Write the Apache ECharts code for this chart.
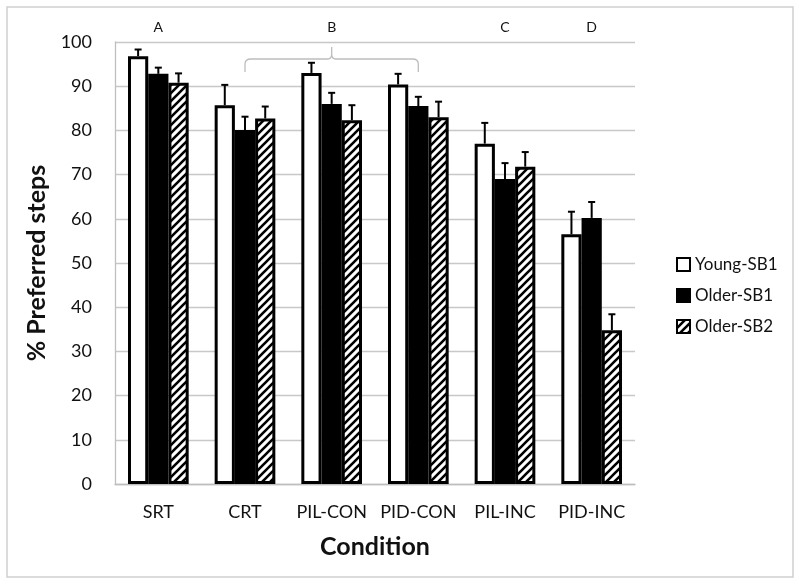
<!DOCTYPE html>
<html>
<head>
<meta charset="utf-8">
<script src="https://cdn.jsdelivr.net/npm/echarts@6/dist/echarts.min.js"></script>
<style>html,body{margin:0;padding:0;background:#fff;}#c{width:800px;height:586px;}</style>
</head>
<body>
<div id="c"></div>
<script>
const categories = ['SRT', 'CRT', 'PIL-CON', 'PID-CON', 'PIL-INC', 'PID-INC'];
const seriesNames = ['Young-SB1', 'Older-SB1', 'Older-SB2'];
const youngSB1 = [96.8, 85.7, 93.0, 90.4, 77.0, 56.5];
const olderSB1 = [92.8, 80.1, 86.0, 85.5, 69.0, 60.2];
const olderSB2 = [90.8, 82.7, 82.3, 83.0, 71.8, 34.8];
const youngSB1Err = [1.5, 4.6, 2.3, 2.4, 4.7, 5.1];
const olderSB1Err = [1.4, 3.0, 2.5, 2.1, 3.6, 3.6];
const olderSB2Err = [2.1, 2.7, 3.4, 3.5, 3.3, 3.6];
const yTicks = [0, 10, 20, 30, 40, 50, 60, 70, 80, 90, 100];
const letterCats = ['SRT', 'PIL-CON', 'PIL-INC', 'PID-INC'];
const letters = ['A', 'B', 'C', 'D'];
const braceCats = ['CRT', 'PIL-CON', 'PID-CON'];

const FONT = 'Lato';

function hatch(bg, fg) {
  const c = document.createElement('canvas');
  c.width = 8; c.height = 8;
  const g = c.getContext('2d');
  g.fillStyle = bg; g.fillRect(0, 0, 8, 8);
  g.strokeStyle = fg; g.lineWidth = 2.6;
  g.beginPath();
  g.moveTo(-2, 10); g.lineTo(10, -2);
  g.moveTo(-6, 6); g.lineTo(6, -6);
  g.moveTo(2, 14); g.lineTo(14, 2);
  g.stroke();
  return c;
}
const hatchImg = hatch('#ffffff', '#000000');

const values = [youngSB1, olderSB1, olderSB2];
const errs = [youngSB1Err, olderSB1Err, olderSB2Err];
const styles = [
  { color: '#ffffff', borderColor: '#000', borderWidth: 3 },
  { color: '#000000', borderColor: '#000', borderWidth: 3 },
  { color: { image: hatchImg, repeat: 'repeat' }, borderColor: '#000', borderWidth: 3 }
];

const series = [];
values.forEach((vals, s) => {
  series.push({
    name: seriesNames[s], type: 'bar', data: vals,
    barGap: '0%', barCategoryGap: '30%',
    itemStyle: styles[s], z: 2
  });
});
values.forEach((vals, s) => {
  series.push({
    type: 'custom', z: 5, silent: true,
    data: vals.map((v, i) => [i, v, errs[s][i]]),
    renderItem: function (params, api) {
      const band = api.size([1, 0])[0];
      const bw = band * 0.7 / 3;
      const base = api.coord([api.value(0), api.value(1)]);
      const topP = api.coord([api.value(0), api.value(1) + api.value(2)]);
      const x = base[0] + (s - 1) * bw;
      return {
        type: 'group',
        children: [
          { type: 'line', shape: { x1: x, y1: base[1], x2: x, y2: topP[1] }, style: { stroke: '#000', lineWidth: 2 } },
          { type: 'line', shape: { x1: x - 3.5, y1: topP[1], x2: x + 3.5, y2: topP[1] }, style: { stroke: '#000', lineWidth: 2 } }
        ]
      };
    }
  });
});
// group letters and brace
series.push({
  type: 'custom', z: 6, silent: true, clip: false,
  data: letterCats.map((c, i) => [categories.indexOf(c), i]),
  renderItem: function (params, api) {
    const p = api.coord([api.value(0), 100]);
    const top = params.coordSys.y;
    return {
      type: 'text',
      style: { text: letters[api.value(1)], x: p[0], y: top - 15, align: 'center', verticalAlign: 'middle', fill: '#111', font: '14px ' + FONT }
    };
  }
});
series.push({
  type: 'custom', z: 6, silent: true, clip: false,
  data: [[categories.indexOf(braceCats[0]), categories.indexOf(braceCats[1]), categories.indexOf(braceCats[2])]],
  renderItem: function (params, api) {
    const top = params.coordSys.y;
    const x1 = api.coord([api.value(0), 100])[0];
    const xm = api.coord([api.value(1), 100])[0];
    const x2 = api.coord([api.value(2), 100])[0];
    const yh = top + 17, yb = top + 30, yt = top + 5;
    const d = `M${x1},${yb} L${x1},${yh + 5} Q${x1},${yh} ${x1 + 6},${yh} L${xm - 4},${yh} Q${xm},${yh} ${xm},${yh - 5} L${xm},${yt} M${xm},${yh - 5} Q${xm},${yh} ${xm + 4},${yh} L${x2 - 6},${yh} Q${x2},${yh} ${x2},${yh + 5} L${x2},${yb}`;
    return { type: 'path', shape: { pathData: d }, style: { stroke: '#bdbdbd', lineWidth: 1.3, fill: null } };
  }
});

const chart = echarts.init(document.getElementById('c'), null, { renderer: 'canvas' });
chart.setOption({
  animation: false,
  backgroundColor: '#fff',
  graphic: [{ type: 'rect', shape: { x: 7, y: 7, width: 786, height: 570 }, style: { fill: null, stroke: '#d0d0d0', lineWidth: 1.5 }, z: 0 }],
  grid: { left: 115, right: 165, top: 42, bottom: 102 },
  legend: {
    data: seriesNames, orient: 'vertical', left: 671, top: 251,
    itemWidth: 13, itemHeight: 13, itemGap: 14, icon: 'rect',
    textStyle: { fontFamily: FONT, fontSize: 17, color: '#111' }
  },
  xAxis: {
    type: 'category', data: categories,
    axisLine: { lineStyle: { color: '#bfbfbf', width: 1.3 } },
    axisTick: { show: false },
    axisLabel: { fontFamily: FONT, fontSize: 18, color: '#111', margin: 19, interval: 0 },
    name: 'Condition', nameLocation: 'middle', nameGap: 50,
    nameTextStyle: { fontFamily: FONT, fontSize: 25, fontWeight: 'bold', color: '#111' }
  },
  yAxis: {
    type: 'value', min: yTicks[0], max: yTicks[yTicks.length - 1], interval: 10,
    axisLine: { show: true, lineStyle: { color: '#bfbfbf', width: 1.3 } },
    axisTick: { show: false },
    splitLine: { lineStyle: { color: '#c8c8c8', width: 1.3 } },
    axisLabel: { fontFamily: FONT, fontSize: 18, color: '#111', margin: 23 },
    name: '% Preferred steps', nameLocation: 'middle', nameGap: 63,
    nameTextStyle: { fontFamily: FONT, fontSize: 25, fontWeight: 'bold', color: '#111' }
  },
  series: series
});
</script>
</body>
</html>
